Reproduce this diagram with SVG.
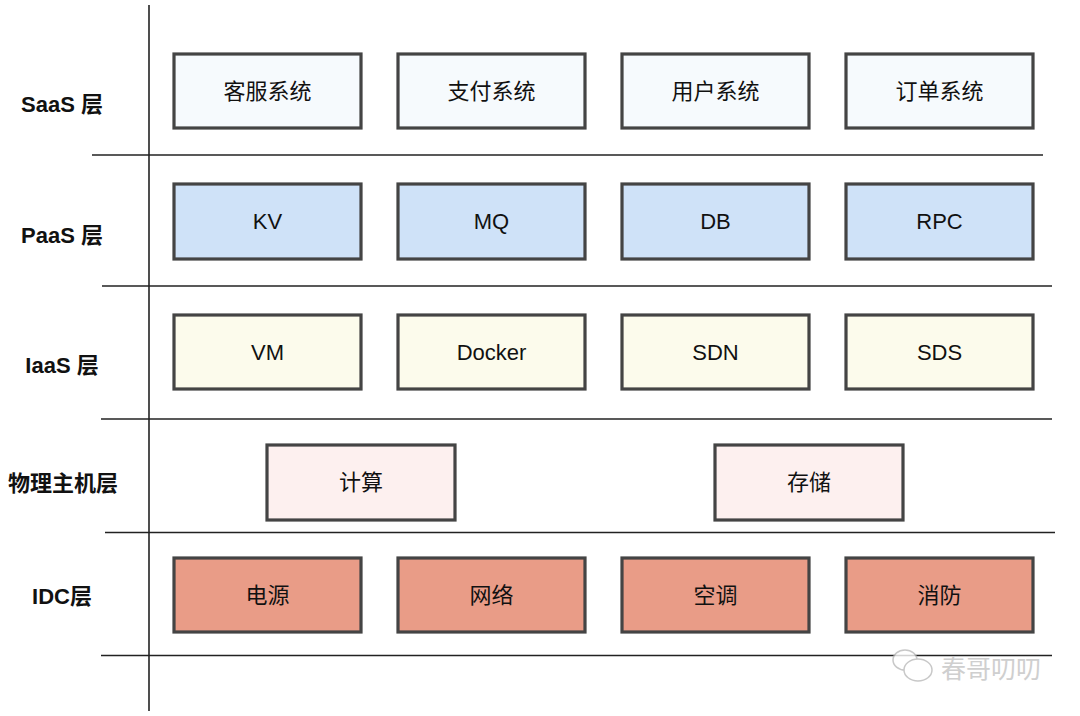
<svg xmlns="http://www.w3.org/2000/svg" width="1080" height="716" viewBox="0 0 1080 716">
<style>
.ln{stroke:#222;stroke-width:1.6;fill:none}
.box{stroke:#444;stroke-width:3.2}
.t{font-family:"Liberation Sans","Noto Sans CJK SC",sans-serif;font-size:22px;fill:#111;text-anchor:middle;dominant-baseline:central}
.lb{font-family:"Liberation Sans","Noto Sans CJK SC",sans-serif;font-size:22px;font-weight:bold;fill:#111;text-anchor:middle;dominant-baseline:central}
.saas{fill:#f6fafd}
.paas{fill:#cfe2f8}
.iaas{fill:#fcfbec}
.phy{fill:#fdf0ef}
.idc{fill:#e99c87}
</style>
<rect width="1080" height="716" fill="#fff"/>
<g id="connectors">
<line class="ln" x1="149" y1="5" x2="149" y2="711"/>
<line class="ln" x1="92" y1="155" x2="1043" y2="155"/>
<line class="ln" x1="102" y1="286" x2="1052" y2="286"/>
<line class="ln" x1="101" y1="419" x2="1052" y2="419"/>
<line class="ln" x1="105" y1="532.5" x2="1055" y2="532.5"/>
<line class="ln" x1="101" y1="655.5" x2="1052" y2="655.5"/>
</g>
<g id="labels">
<text class="lb" x="62" y="104">SaaS 层</text>
<text class="lb" x="62" y="235">PaaS 层</text>
<text class="lb" x="62" y="365">IaaS 层</text>
<text class="lb" x="63" y="483">物理主机层</text>
<text class="lb" x="62" y="596">IDC层</text>
</g>
<g id="saas1"><rect class="box saas" x="174" y="54" width="187" height="74"/><text class="t" x="267.5" y="91">客服系统</text></g>
<g id="saas2"><rect class="box saas" x="398" y="54" width="187" height="74"/><text class="t" x="491.5" y="91">支付系统</text></g>
<g id="saas3"><rect class="box saas" x="622" y="54" width="187" height="74"/><text class="t" x="715.5" y="91">用户系统</text></g>
<g id="saas4"><rect class="box saas" x="846" y="54" width="187" height="74"/><text class="t" x="939.5" y="91">订单系统</text></g>
<g id="paas1"><rect class="box paas" x="174" y="184" width="187" height="75"/><text class="t" x="267.5" y="221.5">KV</text></g>
<g id="paas2"><rect class="box paas" x="398" y="184" width="187" height="75"/><text class="t" x="491.5" y="221.5">MQ</text></g>
<g id="paas3"><rect class="box paas" x="622" y="184" width="187" height="75"/><text class="t" x="715.5" y="221.5">DB</text></g>
<g id="paas4"><rect class="box paas" x="846" y="184" width="187" height="75"/><text class="t" x="939.5" y="221.5">RPC</text></g>
<g id="iaas1"><rect class="box iaas" x="174" y="315" width="187" height="74"/><text class="t" x="267.5" y="352">VM</text></g>
<g id="iaas2"><rect class="box iaas" x="398" y="315" width="187" height="74"/><text class="t" x="491.5" y="352">Docker</text></g>
<g id="iaas3"><rect class="box iaas" x="622" y="315" width="187" height="74"/><text class="t" x="715.5" y="352">SDN</text></g>
<g id="iaas4"><rect class="box iaas" x="846" y="315" width="187" height="74"/><text class="t" x="939.5" y="352">SDS</text></g>
<g id="phy1"><rect class="box phy" x="267" y="445" width="188" height="75"/><text class="t" x="361" y="482.5">计算</text></g>
<g id="phy2"><rect class="box phy" x="715" y="445" width="188" height="75"/><text class="t" x="809" y="482.5">存储</text></g>
<g id="idc1"><rect class="box idc" x="174" y="558" width="187" height="74"/><text class="t" x="267.5" y="595">电源</text></g>
<g id="idc2"><rect class="box idc" x="398" y="558" width="187" height="74"/><text class="t" x="491.5" y="595">网络</text></g>
<g id="idc3"><rect class="box idc" x="622" y="558" width="187" height="74"/><text class="t" x="715.5" y="595">空调</text></g>
<g id="idc4"><rect class="box idc" x="846" y="558" width="187" height="74"/><text class="t" x="939.5" y="595">消防</text></g>
<g id="watermark" opacity="0.8">
<ellipse cx="905" cy="660" rx="12" ry="10" fill="#fff" stroke="#bbb" stroke-width="1.5"/>
<ellipse cx="918" cy="670" rx="14" ry="11" fill="#fff" stroke="#bbb" stroke-width="1.5"/>
<text x="991" y="667" font-family="Noto Sans CJK SC,sans-serif" font-size="25" fill="#c4c4c4" text-anchor="middle" dominant-baseline="central">春哥叨叨</text>
</g>
</svg>
